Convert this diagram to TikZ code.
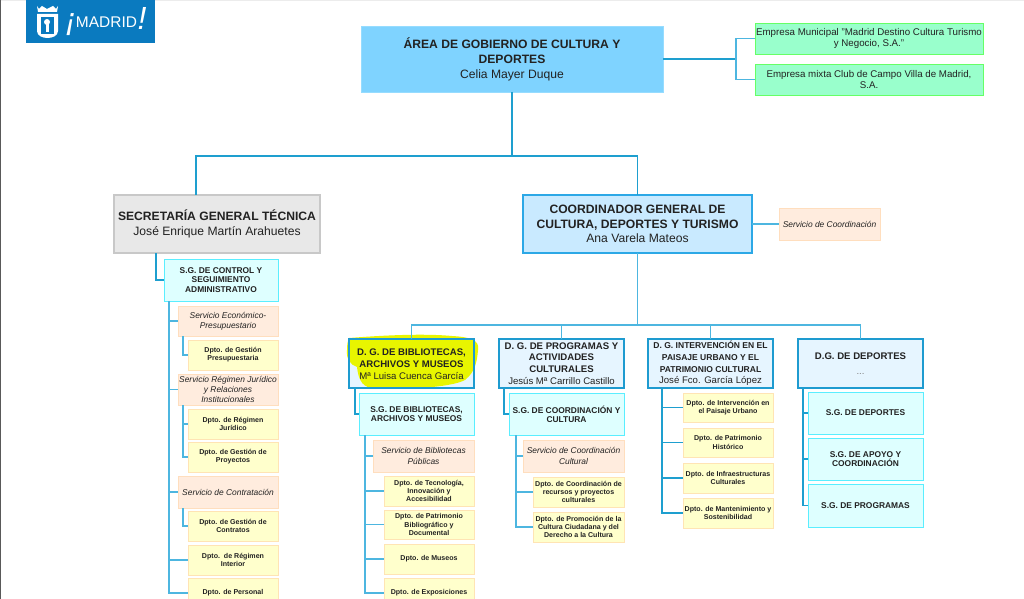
\documentclass[tikz,border=0pt]{standalone}
\usepackage{fontspec}
\setmainfont{Liberation Sans}
\definecolor{ink}{HTML}{222222}
\definecolor{lineA}{HTML}{1E9FCF}
\definecolor{lineB}{HTML}{4DB6E0}
\definecolor{logoblue}{RGB}{10,122,191}
\definecolor{marker}{RGB}{232,245,0}
\definecolor{topfill}{RGB}{127,211,255}
\definecolor{topdraw}{RGB}{150,220,255}
\definecolor{greyfill}{RGB}{232,232,232}
\definecolor{greydraw}{RGB}{200,200,200}
\definecolor{coordfill}{RGB}{201,234,255}
\definecolor{coorddraw}{RGB}{44,168,230}
\definecolor{dgfill}{RGB}{230,245,255}
\definecolor{dgdraw}{RGB}{30,155,208}
\definecolor{sgfill}{RGB}{222,255,255}
\definecolor{sgdraw}{RGB}{90,238,255}
\definecolor{servfill}{RGB}{255,236,222}
\definecolor{servdraw}{RGB}{255,222,190}
\definecolor{dptofill}{RGB}{255,255,204}
\definecolor{dptodraw}{RGB}{255,228,180}
\definecolor{empfill}{RGB}{153,255,204}
\definecolor{empdraw}{RGB}{102,255,102}
\newcommand{\fs}[2]{\fontsize{#1}{#2}\selectfont}
\newcommand{\bx}[7]{\node[#2, minimum width={(#5-#3)*0.75pt}, minimum height={(#6-#4)*0.75pt}] (#1) at ({(#3+#5)/2},{(#4+#6)/2}) {#7};}
\tikzset{
  base/.style={inner sep=0pt, outer sep=0pt, align=center, text=ink, line width=0.7pt},
  topbox/.style={base, fill=topfill, draw=topdraw, font=\fs{9.1}{11.2}},
  greybox/.style={base, fill=greyfill, draw=greydraw, line width=1.1pt, font=\fs{9.1}{11.2}},
  coordbox/.style={base, fill=coordfill, draw=coorddraw, line width=1.1pt, font=\fs{9.1}{10.9}},
  dgbox/.style={base, fill=dgfill, draw=dgdraw, line width=1.1pt, font=\fs{7.2}{8.8}},
  sgbox/.style={base, fill=sgfill, draw=sgdraw, font=\fs{6.3}{6.9}},
  servbox/.style={base, fill=servfill, draw=servdraw, font=\fs{6.3}{7.7}\itshape},
  dptobox/.style={base, fill=dptofill, draw=dptodraw, font=\fs{5.3}{6.2}\bfseries},
  empbox/.style={base, fill=empfill, draw=empdraw, font=\fs{7.3}{8.4}},
  conA/.style={draw=lineA, line width=0.95pt},
  conB/.style={draw=lineB, line width=0.95pt},
}
\begin{document}
\begin{tikzpicture}[x=0.75pt,y=-0.75pt]
\useasboundingbox (0,0) rectangle (1024,599);
\clip (0,0) rectangle (1024,599);
\fill[white] (0,0) rectangle (1024,599);
\fill[gray!15] (0,0) rectangle (1024,1);
\fill[black!65] (0,0) rectangle (1.2,599);

% logo
\fill[logoblue] (26,0) rectangle (155,43);
\fill[white] (37,6) -- (39,9) -- (42,6) -- (47,9) -- (53,6) -- (56,9) -- (58,6) -- (57,12) -- (38,12) -- cycle;
\fill[white] (37,14) -- (58,14) -- (58,31) .. controls (58,36) and (52,38) .. (47.5,38) .. controls (43,38) and (37,36) .. (37,31) -- cycle;
\fill[logoblue] (41,17) rectangle (54,34);
\fill[white] (47,22) circle (3);
\fill[white] (46,24) rectangle (49,32);
\node[inner sep=0pt, text=white, font=\fs{24}{24}\itshape] (logoa) at (71,25) {¡};
\node[inner sep=0pt, text=white, font=\fs{11.6}{12}] (logob) at (106.5,22) {MADRID};
\node[inner sep=0pt, text=white, font=\fs{24}{24}\itshape] (logoc) at (142,18) {!};

% boxes
\bx{top}{topbox}{361}{26}{663}{92}{\textbf{ÁREA DE GOBIERNO DE CULTURA Y}\\\textbf{DEPORTES}\\Celia Mayer Duque}
\bx{emp1}{empbox}{755}{23}{983}{54}{Empresa Municipal "Madrid Destino Cultura Turismo\\y Negocio, S.A."}
\bx{emp2}{empbox}{755}{64}{983}{95}{Empresa mixta Club de Campo Villa de Madrid,\\S.A.}
\bx{sgt}{greybox}{114}{195}{320}{253}{\textbf{SECRETARÍA GENERAL TÉCNICA}\\José Enrique Martín Arahuetes}
\bx{coord}{coordbox}{523}{195}{752}{253}{\textbf{COORDINADOR GENERAL DE}\\\textbf{CULTURA, DEPORTES Y TURISMO}\\Ana Varela Mateos}
\bx{servc}{servbox}{779}{208}{880}{240}{Servicio de Coordinación}

% left column
\bx{sgctrl}{sgbox}{164}{259}{278}{301}{\textbf{S.G. DE CONTROL Y}\\\textbf{SEGUIMIENTO}\\\textbf{ADMINISTRATIVO}}
\bx{s1}{servbox}{178}{306}{278}{336}{Servicio Económico-\\Presupuestario}
\bx{d1}{dptobox}{188}{340}{278}{370}{Dpto. de Gestión\\Presupuestaria}
\bx{s2}{servbox}{178}{374}{278}{405}{Servicio Régimen Jurídico\\y Relaciones\\Institucionales}
\bx{d2}{dptobox}{188}{409}{278}{439}{Dpto. de Régimen\\Jurídico}
\bx{d3}{dptobox}{188}{442}{278}{472}{Dpto. de Gestión de\\Proyectos}
\bx{s3}{servbox}{178}{476}{278}{508}{Servicio de Contratación}
\bx{d4}{dptobox}{188}{511}{278}{541}{Dpto. de Gestión de\\Contratos}
\bx{d5}{dptobox}{188}{545}{278}{575}{Dpto.\ \ de Régimen\\Interior}
\bx{d6}{dptobox}{188}{578}{278}{608}{Dpto. de Personal}

% DG row
\bx{dg1}{dgbox}{349}{339}{474}{388}{}
\fill[marker] (349,338) .. controls (375,336) and (420,333) .. (452,336) .. controls (470,337) and (480,340) .. (478,350) .. controls (477,362) and (475,372) .. (465,380) .. controls (450,388) and (400,390) .. (372,388) .. controls (360,387) and (358,375) .. (357,367) .. controls (350,365) and (346,358) .. (347,350) .. controls (347,344) and (348,340) .. (349,338) -- cycle;
\draw[draw=dgdraw, line width=1.1pt] (349,339) rectangle (474,388);
\node[base, font=\fs{7.2}{8.8}] (dg1t) at (411.5,364) {\textbf{D. G. DE BIBLIOTECAS,}\\\textbf{ARCHIVOS Y MUSEOS}\\Mª Luisa Cuenca García};
\bx{dg2}{dgbox}{499}{339}{624}{388}{\textbf{D. G. DE PROGRAMAS Y}\\\textbf{ACTIVIDADES}\\\textbf{CULTURALES}\\Jesús Mª Carrillo Castillo}
\bx{dg3}{dgbox}{648}{339}{773}{388}{\fs{6.4}{7.7}\textbf{D. G. INTERVENCIÓN EN EL}\\\fs{6.4}{7.7}\textbf{PAISAJE URBANO Y EL}\\\fs{6.4}{7.7}\textbf{PATRIMONIO CULTURAL}\\\fs{7.2}{8.8}José Fco. García López}
\bx{dg4}{dgbox}{798}{339}{923}{388}{\textbf{D.G. DE DEPORTES}\\[2.5pt]{\color{gray}...}}

% column 1
\bx{sgb}{sgbox}{359}{393}{474}{435}{\textbf{S.G. DE BIBLIOTECAS,}\\\textbf{ARCHIVOS Y MUSEOS}}
\bx{sb1}{servbox}{373}{440}{474}{472}{Servicio de Bibliotecas\\Públicas}
\bx{db1}{dptobox}{384}{476}{474}{506}{Dpto. de Tecnología,\\Innovación y\\Accesibilidad}
\bx{db2}{dptobox}{384}{510}{474}{539}{Dpto. de Patrimonio\\Bibliográfico y\\Documental}
\bx{db3}{dptobox}{384}{544}{474}{574}{Dpto. de Museos}
\bx{db4}{dptobox}{384}{578}{474}{608}{Dpto. de Exposiciones}

% column 2
\bx{sgp}{sgbox}{509}{393}{624}{435}{\textbf{S.G. DE COORDINACIÓN Y}\\\textbf{CULTURA}}
\bx{sp1}{servbox}{523}{440}{624}{472}{Servicio de Coordinación\\Cultural}
\bx{dp1}{dptobox}{533}{477}{624}{507}{Dpto. de Coordinación de\\recursos y proyectos\\culturales}
\bx{dp2}{dptobox}{533}{512}{624}{542}{Dpto. de Promoción de la\\Cultura Ciudadana y del\\Derecho a la Cultura}

% column 3
\bx{di1}{dptobox}{683}{393}{773}{422}{Dpto. de Intervención en\\el Paisaje Urbano}
\bx{di2}{dptobox}{683}{428}{773}{457}{Dpto. de Patrimonio\\Histórico}
\bx{di3}{dptobox}{683}{463}{773}{493}{Dpto. de Infraestructuras\\Culturales}
\bx{di4}{dptobox}{683}{498}{773}{528}{Dpto. de Mantenimiento y\\Sostenibilidad}

% column 4
\bx{sd1}{sgbox}{808}{392}{923}{434}{\textbf{S.G. DE DEPORTES}}
\bx{sd2}{sgbox}{808}{438}{923}{480}{\textbf{S.G. DE APOYO Y}\\\textbf{COORDINACIÓN}}
\bx{sd3}{sgbox}{808}{484}{923}{527}{\textbf{S.G. DE PROGRAMAS}}

% connector junctions
\coordinate (hubtop) at (top.south |- 0,156);
\coordinate (hubsgt) at (196,156);
\coordinate (hubemp) at (736,59);
\coordinate (hubdg) at (coord.south |- 0,325);
\coordinate (tsgt) at (156,253);
\coordinate (tctrl) at (169,301);
\coordinate (ts1) at (183,336);
\coordinate (ts2) at (183,405);
\coordinate (ts3) at (183,508);
\coordinate (tdg1) at (355,388);
\coordinate (tdg2) at (504,388);
\coordinate (tdg3) at (662,388);
\coordinate (tdg4) at (803,388);
\coordinate (tsgb) at (365,435);
\coordinate (tsgp) at (516,435);

% main connectors
\draw[conA] (top.south) -- (hubtop);
\draw[conA] (hubtop) -- (hubsgt) -- (hubsgt |- sgt.north);
\draw[conA] (hubtop) -| (coord.north);
\draw[conA] (top.east |- hubemp) -- (hubemp);
\draw[conB] (hubemp) |- (emp1.west);
\draw[conB] (hubemp) |- (emp2.west);
\draw[conB] (coord.east |- servc.west) -- (servc.west);
\draw[conB] (coord.south) -- (hubdg);
\draw[conB] (hubdg) -| (dg1.north);
\draw[conB] (hubdg) -| (dg2.north);
\draw[conB] (hubdg) -| (dg3.north);
\draw[conB] (hubdg) -| (dg4.north);

% left column connectors
\draw[conA] (tsgt) |- (sgctrl.west);
\foreach \n in {s1,s2,s3,d5,d6} {\draw[conB] (tctrl) |- (\n.west);}
\draw[conB] (ts1) |- (d1.west);
\foreach \n in {d2,d3} {\draw[conB] (ts2) |- (\n.west);}
\draw[conB] (ts3) |- (d4.west);

% DG connectors
\draw[conA] (tdg1) |- (sgb.west);
\draw[conA] (tdg2) |- (sgp.west);
\foreach \n in {sb1,db1,db2,db3,db4} {\draw[conB] (tsgb) |- (\n.west);}
\foreach \n in {sp1,dp1,dp2} {\draw[conB] (tsgp) |- (\n.west);}
\foreach \n in {di1,di2,di3,di4} {\draw[conA] (tdg3) |- (\n.west);}
\foreach \n in {sd1,sd2,sd3} {\draw[conA] (tdg4) |- (\n.west);}
\end{tikzpicture}
\end{document}
